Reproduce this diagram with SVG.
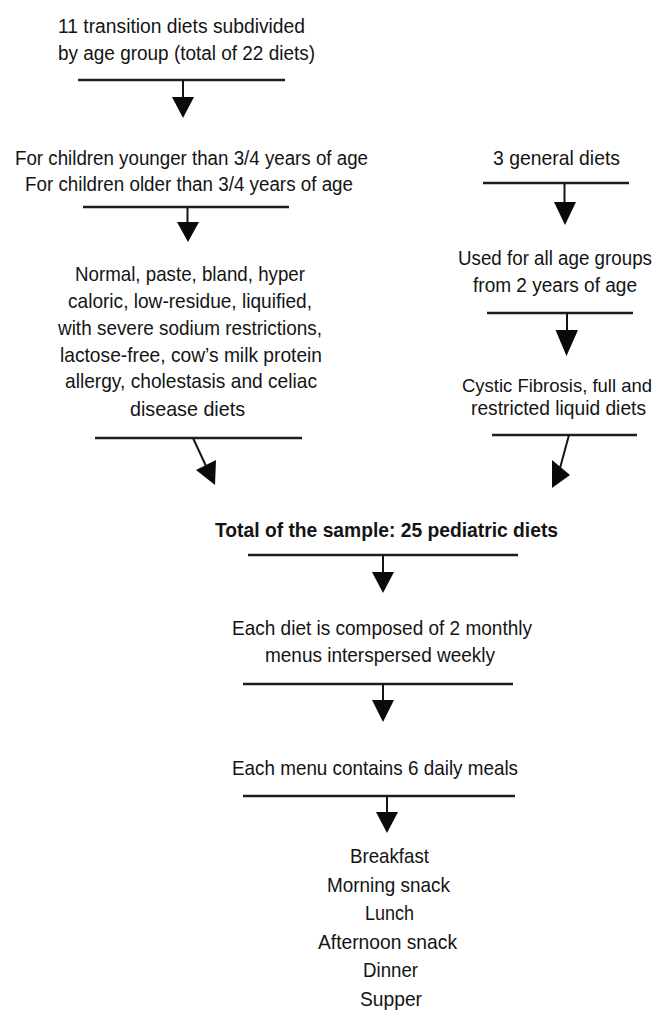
<svg xmlns="http://www.w3.org/2000/svg" width="659" height="1012" viewBox="0 0 659 1012">
<style>
text{font-family:"Liberation Sans",Arial,sans-serif;fill:#141414;text-anchor:middle}
.s{font-size:19.5px}
.t{font-size:18.5px}
.m{font-size:21px}
.b{font-weight:bold}
.bar{stroke:#1e1e1e;stroke-width:2.5;fill:none}
.stem{stroke:#141414;stroke-width:2;fill:none}
.head{fill:#0a0a0a}
</style>
<rect width="659" height="1012" fill="#ffffff"/>
<g id="node-transition">
<text class="s" x="181.5" y="33" textLength="247" lengthAdjust="spacingAndGlyphs">11 transition diets subdivided</text>
<text class="s" x="186.5" y="60" textLength="257" lengthAdjust="spacingAndGlyphs">by age group (total of 22 diets)</text>
</g>
<g id="node-age">
<text class="s" x="191.5" y="165" textLength="353" lengthAdjust="spacingAndGlyphs">For children younger than 3/4 years of age</text>
<text class="s" x="189" y="190.5" textLength="328" lengthAdjust="spacingAndGlyphs">For children older than 3/4 years of age</text>
</g>
<g id="node-diet-types">
<text class="m" x="190" y="281" textLength="230" lengthAdjust="spacingAndGlyphs">Normal, paste, bland, hyper</text>
<text class="m" x="190" y="308" textLength="244" lengthAdjust="spacingAndGlyphs">caloric, low-residue, liquified,</text>
<text class="m" x="190" y="335" textLength="264" lengthAdjust="spacingAndGlyphs">with severe sodium restrictions,</text>
<text class="m" x="191" y="362" textLength="262" lengthAdjust="spacingAndGlyphs">lactose-free, cow’s milk protein</text>
<text class="m" x="191" y="388" textLength="252" lengthAdjust="spacingAndGlyphs">allergy, cholestasis and celiac</text>
<text class="m" x="187.5" y="416" textLength="115" lengthAdjust="spacingAndGlyphs">disease diets</text>
</g>
<g id="node-general">
<text class="m" x="556.5" y="165" textLength="127" lengthAdjust="spacingAndGlyphs">3 general diets</text>
</g>
<g id="node-all-ages">
<text class="s" x="555" y="265" textLength="194" lengthAdjust="spacingAndGlyphs">Used for all age groups</text>
<text class="s" x="555" y="291.5" textLength="164" lengthAdjust="spacingAndGlyphs">from 2 years of age</text>
</g>
<g id="node-cystic">
<text class="t" x="557" y="392" textLength="190" lengthAdjust="spacingAndGlyphs">Cystic Fibrosis, full and</text>
<text class="s" x="558.5" y="415" textLength="175" lengthAdjust="spacingAndGlyphs">restricted liquid diets</text>
</g>
<g id="node-total">
<text class="m b" x="386.5" y="537" textLength="343" lengthAdjust="spacingAndGlyphs">Total of the sample: 25 pediatric diets</text>
</g>
<g id="node-menus">
<text class="m" x="382" y="635" textLength="300" lengthAdjust="spacingAndGlyphs">Each diet is composed of 2 monthly</text>
<text class="m" x="380" y="661.5" textLength="230" lengthAdjust="spacingAndGlyphs">menus interspersed weekly</text>
</g>
<g id="node-meals">
<text class="m" x="375" y="775" textLength="286" lengthAdjust="spacingAndGlyphs">Each menu contains 6 daily meals</text>
</g>
<g id="node-meal-list">
<text class="m" x="389.5" y="863" textLength="79" lengthAdjust="spacingAndGlyphs">Breakfast</text>
<text class="m" x="388.5" y="891.6" textLength="123" lengthAdjust="spacingAndGlyphs">Morning snack</text>
<text class="m" x="389.5" y="920.2" textLength="49" lengthAdjust="spacingAndGlyphs">Lunch</text>
<text class="m" x="387.5" y="948.8" textLength="139" lengthAdjust="spacingAndGlyphs">Afternoon snack</text>
<text class="m" x="390.5" y="977.4" textLength="55" lengthAdjust="spacingAndGlyphs">Dinner</text>
<text class="m" x="391" y="1006" textLength="62" lengthAdjust="spacingAndGlyphs">Supper</text>
</g>
<g id="connectors">
<line class="bar" x1="78" y1="80" x2="285" y2="80"/>
<line class="stem" x1="183" y1="80" x2="183" y2="98"/>
<polygon class="head" points="172,97 194,97 183,118"/>
<line class="bar" x1="83" y1="207" x2="289" y2="207"/>
<line class="stem" x1="187.5" y1="207" x2="187.5" y2="223"/>
<polygon class="head" points="177,222 199,222 188,242"/>
<line class="bar" x1="95" y1="438" x2="302" y2="438"/>
<line class="stem" x1="193" y1="438" x2="206" y2="466"/>
<polygon class="head" points="196,470 216,460 215,485"/>
<line class="bar" x1="483" y1="183" x2="629" y2="183"/>
<line class="stem" x1="564.5" y1="183" x2="564.5" y2="203"/>
<polygon class="head" points="554,202 576,202 565,225"/>
<line class="bar" x1="487" y1="313" x2="633" y2="313"/>
<line class="stem" x1="567" y1="313" x2="567" y2="331"/>
<polygon class="head" points="555.5,330 578,330 566.5,356"/>
<line class="bar" x1="492" y1="435" x2="637" y2="435"/>
<line class="stem" x1="569" y1="435" x2="560" y2="468"/>
<polygon class="head" points="552,460 570,475 552,488"/>
<line class="bar" x1="248" y1="555" x2="518" y2="555"/>
<line class="stem" x1="383" y1="555" x2="383" y2="573"/>
<polygon class="head" points="372,572 394,572 383,593"/>
<line class="bar" x1="243" y1="684" x2="513" y2="684"/>
<line class="stem" x1="383" y1="684" x2="383" y2="701"/>
<polygon class="head" points="372,700 394,700 383,722"/>
<line class="bar" x1="243" y1="796" x2="515" y2="796"/>
<line class="stem" x1="387" y1="796" x2="387" y2="813"/>
<polygon class="head" points="376,812 398,812 387,833"/>
</g>
</svg>
